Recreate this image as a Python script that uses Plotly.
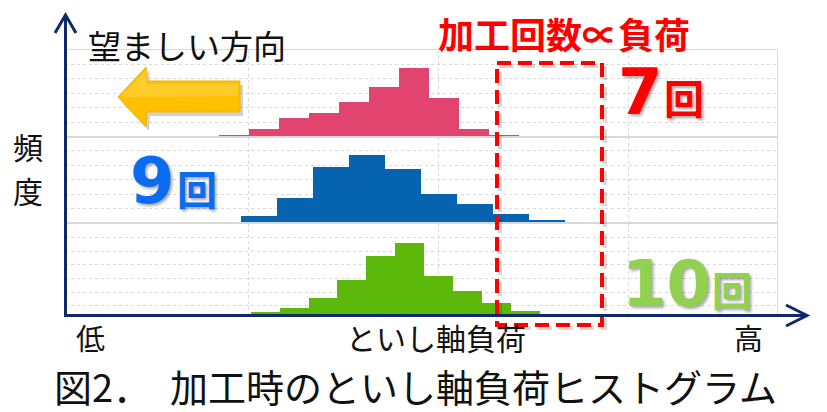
import plotly.graph_objects as go
from plotly.subplots import make_subplots

# ---------------- data ----------------
series_labels = ["7回", "9回", "10回"]

pink_bin_start, pink_bin_width = 15.4, 3.0
pink_counts = [0.10, 0.49, 1.25, 1.60, 2.36, 3.40, 4.78, 2.64, 0.55, 0.05]

blue_bin_start, blue_bin_width = 14.0, 3.6
blue_counts = [0.06, 0.53, 1.81, 3.96, 4.73, 3.76, 2.09, 1.39, 0.65, 0.28, 0.06]

green_bin_start, green_bin_width = 18.57, 2.89
green_counts = [0.07, 0.40, 1.10, 2.37, 4.05, 4.95, 2.65, 1.58, 0.77, 0.16]

x_labels = ["低", "といし軸負荷", "高"]
y_label = ["頻", "度"]
title_text = "図2．　加工時のといし軸負荷ヒストグラム"
note_text = "望ましい方向"
red_note = "加工回数∝負荷"

# ---------------- layout helpers ----------------
OFF = 8                      # page body margin of the html page
W, H = 827 - OFF, 412 - OFF  # figure fills the rest of the window
JP = "Noto Sans CJK JP"
NAVY = "#10296b"
GRID = "#d9d9d9"


def px(x):
    return (x - OFF) / W


def py(y):
    return 1 - (y - OFF) / H


def centers(start, width, counts):
    return [start + width * (i + 0.5) for i in range(len(counts))]


fig = make_subplots(rows=3, cols=1, vertical_spacing=0)

series = [
    (pink_bin_start, pink_bin_width, pink_counts, "#e24470"),
    (blue_bin_start, blue_bin_width, blue_counts, "#0563b0"),
    (green_bin_start, green_bin_width, green_counts, "#5cb80a"),
]
for i, (s, w, c, col) in enumerate(series):
    fig.add_trace(
        go.Bar(x=centers(s, w, c), y=c, width=w, marker_color=col,
               marker_line_width=0, name=series_labels[i], hoverinfo="skip"),
        row=i + 1, col=1)

# panel geometry (pixels from top) : top, bottom, y-range, tick0, dtick
panels = [
    (50, 136.5, [0, 6.0], 0, 1),
    (136.5, 223.3, [0, 6.0], 0, 1),
    (223.3, 314.0, [0, 6.33], 0.58, 0.95),
]
for i, (top, bot, rng, t0, dt) in enumerate(panels):
    fig.update_yaxes(domain=[py(bot), py(top)], range=rng, showticklabels=False,
                     showgrid=True, gridcolor=GRID, griddash="dot", gridwidth=1,
                     tick0=t0, dtick=dt, zeroline=False, showline=True,
                     mirror=True, linecolor=GRID, linewidth=1, ticks="",
                     row=i + 1, col=1)
    fig.update_xaxes(domain=[px(65), px(777)], range=[0, 71.2],
                     showticklabels=False, showgrid=True, gridcolor=GRID,
                     griddash="dot", gridwidth=1, tick0=18.3, dtick=19,
                     zeroline=False, showline=True, mirror=True,
                     linecolor=GRID, linewidth=1, ticks="",
                     row=i + 1, col=1)


def ppath(points):
    return "M " + " L ".join(f"{px(x):.5f},{py(y):.5f}" for x, y in points)


shapes = []
# yellow arrow shadow + arrow (two tones for a light gradient look)
arrow_pts = [(118, 97), (146, 67), (147, 81), (240, 81), (240, 112),
             (147, 112), (146, 127)]
shapes.append(dict(type="path", xref="paper", yref="paper",
                   path=ppath([(x + 3, y + 4) for x, y in arrow_pts]) + " Z",
                   fillcolor="rgba(0,0,0,0.18)", line=dict(width=0)))
shapes.append(dict(type="path", xref="paper", yref="paper",
                   path=ppath(arrow_pts) + " Z",
                   fillcolor="#ffc000", line=dict(color="#f0b400", width=1)))
shapes.append(dict(type="path", xref="paper", yref="paper",
                   path=ppath([(121, 97), (146, 70), (147, 84), (238, 84),
                               (238, 96)]) + " Z",
                   fillcolor="rgba(255,214,80,0.55)", line=dict(width=0)))
# dashed rectangle shadow + rectangle
shapes.append(dict(type="rect", xref="paper", yref="paper",
                   x0=px(500), x1=px(605), y0=py(66), y1=py(328),
                   line=dict(color="rgba(0,0,0,0.15)", width=4, dash="14px,7px")))
shapes.append(dict(type="rect", xref="paper", yref="paper",
                   x0=px(497), x1=px(602), y0=py(63), y1=py(325),
                   line=dict(color="#ff0000", width=4, dash="14px,7px")))
# axes arrows
shapes.append(dict(type="line", xref="paper", yref="paper",
                   x0=px(65.5), x1=px(65.5), y0=py(317), y1=py(16),
                   line=dict(color=NAVY, width=3)))
shapes.append(dict(type="path", xref="paper", yref="paper",
                   path=ppath([(55, 33), (65.5, 15), (76, 33)]),
                   line=dict(color=NAVY, width=3)))
shapes.append(dict(type="line", xref="paper", yref="paper",
                   x0=px(64), x1=px(806), y0=py(315.5), y1=py(315.5),
                   line=dict(color=NAVY, width=3)))
shapes.append(dict(type="path", xref="paper", yref="paper",
                   path=ppath([(786, 305), (807, 315.5), (786, 326)]),
                   line=dict(color=NAVY, width=3)))

SH = "2px 2px 3px rgba(0,0,0,0.35)"
annotations = []


def ann(text, x, y, size, color="#111111", family=JP, weight="normal",
        xanchor="center", shadow="none"):
    annotations.append(dict(text=text, x=px(x), y=py(y), xref="paper",
                            yref="paper", showarrow=False, xanchor=xanchor,
                            yanchor="middle", borderpad=0,
                            font=dict(family=family, size=size, color=color,
                                      weight=weight, shadow=shadow)))


ann(note_text, 87, 45, 33, xanchor="left")
ann(red_note, 437, 33, 36, color="#ff0000", weight="bold", xanchor="left")
ann(y_label[0], 28, 146, 30)
ann(y_label[1], 28, 190, 30)
ann(x_labels[0], 90, 337, 29)
ann(x_labels[1], 436, 337, 30)
ann(x_labels[2], 748, 337, 29)
ann(title_text, 415, 385, 38)

# series count labels: big digit + 回
ann(series_labels[0][:-1], 640, 92, 64, color="#ff0000", family="DejaVu Sans",
    weight="bold", shadow=SH)
ann("回", 684, 97, 40, color="#ff0000", weight="bold", shadow=SH)
ann(series_labels[1][:-1], 152, 181, 64, color="#0a6cf0", family="DejaVu Sans",
    weight="bold", shadow=SH)
ann("回", 197, 188, 40, color="#0a6cf0", weight="bold", shadow=SH)
ann(series_labels[2][:-1], 666, 284, 64, color="#92d050", family="DejaVu Sans",
    weight="bold", shadow=SH)
ann("回", 732, 289, 40, color="#92d050", weight="bold", shadow=SH)

fig.update_layout(width=W, height=H, margin=dict(l=0, r=0, t=0, b=0),
                  plot_bgcolor="white", paper_bgcolor="white",
                  showlegend=False, bargap=0, shapes=shapes,
                  annotations=annotations)

fig.write_html("out.html")
